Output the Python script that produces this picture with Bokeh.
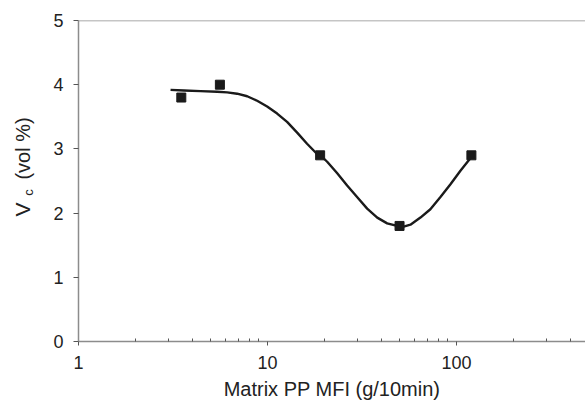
import math
from bokeh.plotting import figure
from bokeh.layouts import row
from bokeh.models import Range1d, Span, FixedTicker, PrintfTickFormatter
from bokeh.core.properties import value
from bokeh.embed import file_html
from bokeh.resources import INLINE

# measured data points
mfi = [3.5, 5.6, 19.0, 50.0, 120.0]
vc = [3.8, 4.0, 2.9, 1.8, 2.9]

# fitted curve
curve_x = [3.07, 3.61, 4.42, 5.42, 6.12, 6.91, 7.81, 8.82, 9.96, 11.25, 12.7,
           14.4, 16.2, 18.3, 19.1, 20.7, 23.4, 26.4, 29.8, 33.7, 38.1, 43.0,
           48.6, 52.6, 57.1, 64.5, 72.8, 82.3, 93.0, 105.0, 122.0]
curve_y = [3.92, 3.91, 3.90, 3.89, 3.88, 3.86, 3.82, 3.75, 3.66, 3.55, 3.42,
           3.25, 3.08, 2.92, 2.90, 2.80, 2.62, 2.43, 2.25, 2.07, 1.93, 1.84,
           1.80, 1.79, 1.82, 1.93, 2.06, 2.25, 2.45, 2.66, 2.90]

x_ticks = [1, 10, 100]
x_minor = [2, 3, 4, 5, 6, 7, 8, 9, 20, 30, 40, 50, 60, 70, 80, 90, 200, 300, 400]
y_ticks = [0, 1, 2, 3, 4, 5]

y_title_parts = ["V", "c", "(vol %)"]
x_title = "Matrix PP MFI (g/10min)"

FONT = "Liberation Sans"
AXIS_COL = "#8c8c8c"
TXT_COL = "#222222"
INK = "#1a1a1a"

W, H = 585, 405
LW = 40                    # width of the strip holding the y title
FL, FT, FB = 78, 20, 64    # frame left (page), top, bottom border

# ---- strip with the y-axis title (V with subscript c) ----
# its frame is aligned with the main plot's frame (page y FT .. H-FB),
# so the y range is set so that y = H - page_y
lp = figure(width=LW, height=H, x_range=Range1d(0, LW),
            y_range=Range1d(FB, H - FT),
            output_backend="svg", toolbar_location=None,
            min_border=0, min_border_left=0, min_border_right=0,
            min_border_top=FT, min_border_bottom=FB)
lp.axis.visible = False
lp.grid.visible = False
lp.outline_line_color = None
lp.border_fill_color = "white"
lp.background_fill_color = "white"
rot = math.pi / 2
# page positions (x, y from top) of each piece and its size
piece_x = [22, 28, 22]
piece_y = [209, 192, 148]
piece_size = ["21px", "13px", "20px"]
for t, px, py, fs in zip(y_title_parts, piece_x, piece_y, piece_size):
    lp.text(x=[px], y=[H - py], text=[t], angle=rot, text_align="center",
            text_baseline="middle", text_font=value(FONT),
            text_font_size=value(fs), text_color=TXT_COL)

# ---- main plot ----
p = figure(width=W - LW, height=H, x_axis_type="log",
           x_range=Range1d(1, 482), y_range=Range1d(0, 5),
           output_backend="svg", toolbar_location=None,
           min_border_left=FL - LW, min_border_right=0, min_border_top=FT,
           min_border_bottom=FB)
p.outline_line_color = None
p.xgrid.grid_line_color = None
p.ygrid.grid_line_color = None
p.background_fill_color = "white"
p.border_fill_color = "white"

p.line(curve_x, curve_y, line_color=INK, line_width=2.4, line_join="round")
p.scatter(mfi, vc, marker="square", size=9, fill_color=INK, line_color=INK)

# top border line
p.add_layout(Span(location=5, dimension="width", line_color=AXIS_COL, line_width=1.5))

xa = p.xaxis[0]
xa.ticker = FixedTicker(ticks=x_ticks, minor_ticks=x_minor)
xa.formatter = PrintfTickFormatter(format="%d")
xa.axis_label = x_title
xa.axis_label_text_font = FONT
xa.axis_label_text_font_size = "20px"
xa.axis_label_text_font_style = "normal"
xa.axis_label_text_color = TXT_COL
xa.axis_label_standoff = 6
xa.major_label_text_font = FONT
xa.major_label_text_font_size = "18px"
xa.major_label_text_color = TXT_COL
xa.major_label_standoff = 10
xa.axis_line_color = AXIS_COL
xa.axis_line_width = 1.5
xa.major_tick_line_color = "#555555"
xa.major_tick_out = 4
xa.major_tick_in = 0
xa.minor_tick_line_color = "#555555"
xa.minor_tick_out = 0
xa.minor_tick_in = 3

ya = p.yaxis[0]
ya.ticker = FixedTicker(ticks=y_ticks)
ya.major_label_text_font = FONT
ya.major_label_text_font_size = "18px"
ya.major_label_text_color = TXT_COL
ya.major_label_standoff = 10
ya.axis_line_color = AXIS_COL
ya.axis_line_width = 1.5
ya.major_tick_line_color = "#555555"
ya.major_tick_out = 5
ya.major_tick_in = 0
ya.minor_tick_line_color = None

layout = row(lp, p, spacing=0)
open("out.html", "w").write(file_html(layout, INLINE))
